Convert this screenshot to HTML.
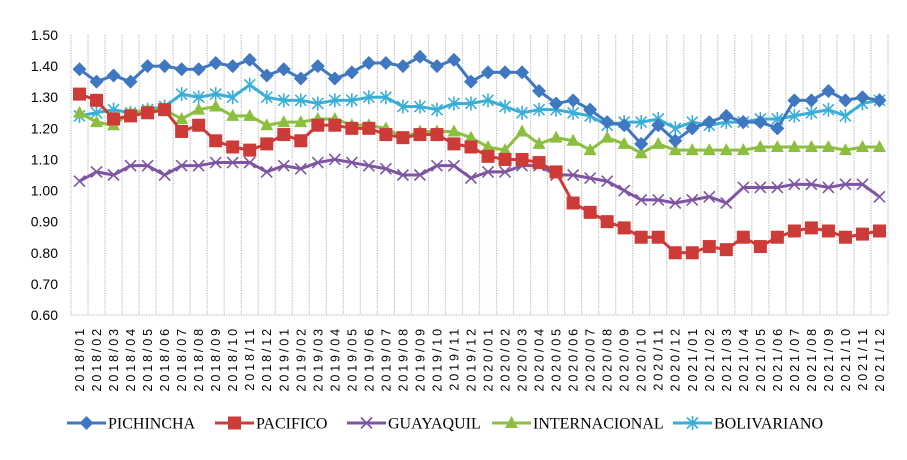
<!DOCTYPE html>
<html><head><meta charset="utf-8"><style>
body{margin:0;background:#fff;}
svg{display:block;}
</style></head><body>
<svg id="chart" width="907" height="460" xmlns="http://www.w3.org/2000/svg"></svg>
<script>
const categories = [];
for (let y = 2018; y <= 2021; y++) for (let m = 1; m <= 12; m++) categories.push(y + '/' + (m < 10 ? '0' : '') + m);
const yTicks = [0.60,0.70,0.80,0.90,1.00,1.10,1.20,1.30,1.40,1.50];
const pichincha = [1.39,1.35,1.37,1.35,1.40,1.40,1.39,1.39,1.41,1.40,1.42,1.37,1.39,1.36,1.40,1.36,1.38,1.41,1.41,1.40,1.43,1.40,1.42,1.35,1.38,1.38,1.38,1.32,1.28,1.29,1.26,1.22,1.21,1.15,1.21,1.16,1.20,1.22,1.24,1.22,1.22,1.20,1.29,1.29,1.32,1.29,1.30,1.29];
const pacifico = [1.31,1.29,1.23,1.24,1.25,1.26,1.19,1.21,1.16,1.14,1.13,1.15,1.18,1.16,1.21,1.21,1.20,1.20,1.18,1.17,1.18,1.18,1.15,1.14,1.11,1.10,1.10,1.09,1.06,0.96,0.93,0.90,0.88,0.85,0.85,0.80,0.80,0.82,0.81,0.85,0.82,0.85,0.87,0.88,0.87,0.85,0.86,0.87];
const guayaquil = [1.03,1.06,1.05,1.08,1.08,1.05,1.08,1.08,1.09,1.09,1.09,1.06,1.08,1.07,1.09,1.10,1.09,1.08,1.07,1.05,1.05,1.08,1.08,1.04,1.06,1.06,1.08,1.08,1.05,1.05,1.04,1.03,1.00,0.97,0.97,0.96,0.97,0.98,0.96,1.01,1.01,1.01,1.02,1.02,1.01,1.02,1.02,0.98];
const internacional = [1.25,1.22,1.21,1.25,1.26,1.26,1.23,1.26,1.27,1.24,1.24,1.21,1.22,1.22,1.23,1.23,1.21,1.21,1.20,1.17,1.19,1.19,1.19,1.17,1.14,1.13,1.19,1.15,1.17,1.16,1.13,1.17,1.15,1.12,1.15,1.13,1.13,1.13,1.13,1.13,1.14,1.14,1.14,1.14,1.14,1.13,1.14,1.14];
const bolivariano = [1.24,1.25,1.26,1.25,1.26,1.27,1.31,1.30,1.31,1.30,1.34,1.30,1.29,1.29,1.28,1.29,1.29,1.30,1.30,1.27,1.27,1.26,1.28,1.28,1.29,1.27,1.25,1.26,1.26,1.25,1.24,1.21,1.22,1.22,1.23,1.20,1.22,1.21,1.22,1.22,1.23,1.23,1.24,1.25,1.26,1.24,1.28,1.29];
const seriesNames = ['PICHINCHA','PACIFICO','GUAYAQUIL','INTERNACIONAL','BOLIVARIANO'];

const NS='http://www.w3.org/2000/svg';
const svg=document.getElementById('chart');
const L=71,R=888,T=35,B=315,yMin=0.6,yMax=1.5;
const step=(R-L)/categories.length;
const xs=i=>L+step*(i+0.5);
const ys=v=>B-(v-yMin)/(yMax-yMin)*(B-T);
function mk(tag,attrs,parent){const e=document.createElementNS(NS,tag);for(const k in attrs)e.setAttribute(k,attrs[k]);(parent||svg).appendChild(e);return e;}

const grid=mk('g',{});


for(let i=0;i<=categories.length;i++){const x=L+step*i;mk('line',{x1:x,x2:x,y1:T,y2:B,stroke:'#c8c8c8','stroke-width':1.2,'stroke-dasharray':'1.5,1'},grid);}
mk('line',{x1:L,x2:R,y1:B,y2:B,stroke:'#c8c8c8','stroke-width':1.2,'stroke-dasharray':'1.5,1'},grid);

const yax=mk('g',{});


yTicks.forEach(v=>{const t=mk('text',{x:58,y:ys(v)+5,'text-anchor':'end','font-family':'Liberation Sans, sans-serif','font-size':14,fill:'#000'},yax);t.textContent=v.toFixed(2);});

const xax=mk('g',{});


categories.forEach((c,i)=>{const x=xs(i)+4.5,y=326;const t=mk('text',{x:x,y:y,transform:`rotate(-90 ${x} ${y})`,'text-anchor':'end','font-family':'Liberation Sans, sans-serif','font-size':12.5,'letter-spacing':'2.9',fill:'#000'},xax);t.textContent=c;});

function marker(g,type,x,y,color){
  if(type==='diamond')mk('polygon',{points:`${x},${y-7} ${x+7},${y} ${x},${y+7} ${x-7},${y}`,fill:color},g);
  else if(type==='square')mk('rect',{x:x-6.5,y:y-6.5,width:13,height:13,fill:color},g);
  else if(type==='triangle')mk('polygon',{points:`${x},${y-7} ${x+6.5},${y+5} ${x-6.5},${y+5}`,fill:color},g);
  else if(type==='x'){mk('path',{d:`M${x-5.5},${y-5.5}L${x+5.5},${y+5.5}M${x-5.5},${y+5.5}L${x+5.5},${y-5.5}`,stroke:color,'stroke-width':1.6},g);}
  else if(type==='star'){mk('path',{d:`M${x-5.5},${y-5.5}L${x+5.5},${y+5.5}M${x-5.5},${y+5.5}L${x+5.5},${y-5.5}M${x},${y-7}L${x},${y+7}`,stroke:color,'stroke-width':1.6},g);}
}
const defs=[
 {data:pichincha,color:'#3f77c1',m:'diamond',name:'series-pichincha'},
 {data:pacifico,color:'#cc3b37',m:'square',name:'series-pacifico'},
 {data:guayaquil,color:'#7e55a3',m:'x',name:'series-guayaquil'},
 {data:internacional,color:'#8cbf3f',m:'triangle',name:'series-internacional'},
 {data:bolivariano,color:'#3aaed6',m:'star',name:'series-bolivariano'}
];
[4,3,2,1,0].forEach(k=>{const d=defs[k];
  const g=mk('g',{});
  
  
  mk('polyline',{points:d.data.map((v,i)=>xs(i)+','+ys(v)).join(' '),fill:'none',stroke:d.color,'stroke-width':3,'stroke-linejoin':'round'},g);
  d.data.forEach((v,i)=>marker(g,d.m,xs(i),ys(v),d.color));
});

const legend=mk('g',{});


const lx=[67,215,347,492,673];
defs.forEach((d,k)=>{
  const g=mk('g',{},legend);
  
  
  const y=423;
  mk('line',{x1:lx[k],x2:lx[k]+39,y1:y,y2:y,stroke:d.color,'stroke-width':3},g);
  marker(g,d.m,lx[k]+19.5,y,d.color);
  const t=mk('text',{x:lx[k]+41,y:y+5.5,'font-family':'Liberation Serif, serif','font-size':16,fill:'#000'},g);
  t.textContent=seriesNames[k];
});
</script>
</body></html>
